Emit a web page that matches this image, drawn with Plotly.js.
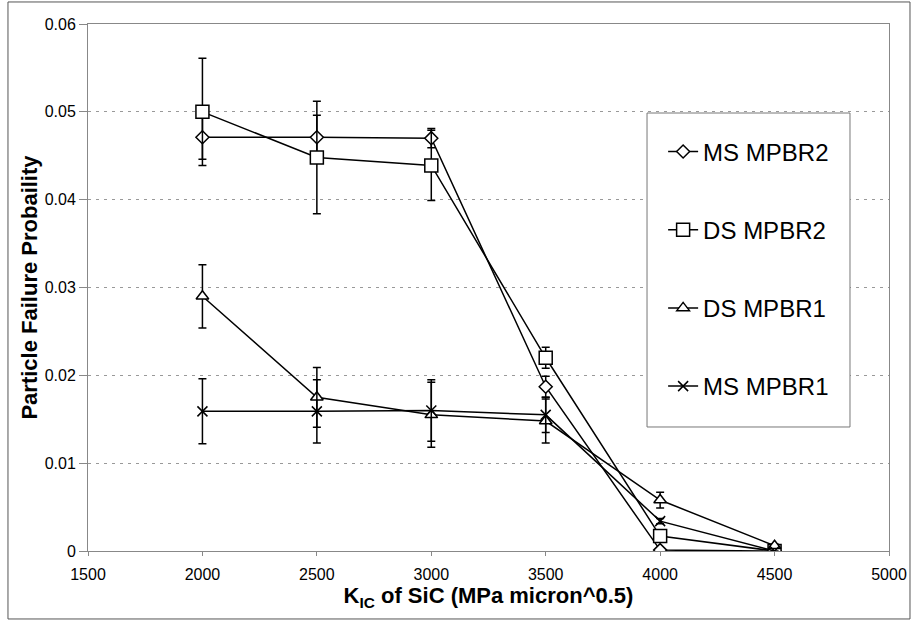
<!DOCTYPE html>
<html>
<head>
<meta charset="utf-8">
<script src="https://cdn.plot.ly/plotly-3.0.1.min.js"></script>
<style>
  html, body { margin: 0; padding: 0; background: #fff; }
  #chart { width: 912px; height: 623px; }
</style>
</head>
<body>
<div id="chart"></div>
<script>
// Fracture toughness of SiC (x) and particle failure probability (y)
const kic = [2000, 2500, 3000, 3500, 4000, 4500];

const seriesNames = ["MS MPBR2", "DS MPBR2", "DS MPBR1", "MS MPBR1"];

const msMpbr2 = [0.0471, 0.0471, 0.0470, 0.0187, 0.0001, 0.0000];
const msMpbr2Err = [0.0025, 0.0025, 0.0011, 0.0012, 0.0000, 0.0000];

const dsMpbr2 = [0.0500, 0.0448, 0.0439, 0.0220, 0.0017, 0.0000];
const dsMpbr2Err = [0.0061, 0.0064, 0.0040, 0.0012, 0.0006, 0.0000];

const dsMpbr1 = [0.0290, 0.0175, 0.0155, 0.0148, 0.0058, 0.0006];
const dsMpbr1Err = [0.0036, 0.0034, 0.0037, 0.0025, 0.0009, 0.0002];

const msMpbr1 = [0.0159, 0.0159, 0.0160, 0.0155, 0.0034, 0.0000];
const msMpbr1Err = [0.0037, 0.0036, 0.0035, 0.0020, 0.0003, 0.0000];

const yTicks = [0, 0.01, 0.02, 0.03, 0.04, 0.05, 0.06];
const yTickText = ["0", "0.01", "0.02", "0.03", "0.04", "0.05", "0.06"];
const xTicks = [1500, 2000, 2500, 3000, 3500, 4000, 4500, 5000];

const FONT = "Liberation Sans, Arial, Helvetica, sans-serif";

function mk(name, y, err, symbol, size, fill) {
  return {
    x: kic, y: y, name: name, type: "scatter", mode: "lines+markers",
    legendgroup: name,
    line: { color: "#000", width: 1.5 },
    marker: { symbol: symbol, size: size, color: fill, line: { color: "#000", width: 1.5 } },
    error_y: { type: "data", array: err, visible: true, color: "#000", thickness: 1.5, width: 4 }
  };
}

const data = [
  mk(seriesNames[0], msMpbr2, msMpbr2Err, "diamond", 10, "#fff"),
  mk(seriesNames[1], dsMpbr2, dsMpbr2Err, "square", 13, "#fff"),
  mk(seriesNames[2], dsMpbr1, dsMpbr1Err, "triangle-up", 11, "#fff"),
  mk(seriesNames[3], msMpbr1, msMpbr1Err, "x-thin", 10, "#000")
];

const layout = {
  width: 912, height: 623,
  margin: { l: 88, r: 23, t: 24, b: 72 },
  paper_bgcolor: "#fff", plot_bgcolor: "#fff",
  font: { family: FONT, color: "#000", size: 16 },
  showlegend: true,
  legend: {
    x: 0.718, y: 0.80, xanchor: "left", yanchor: "top",
    bgcolor: "rgba(0,0,0,0)", borderwidth: 0,
    font: { family: FONT, size: 24, color: "#000" },
    traceorder: "grouped", tracegroupgap: 44,
    itemwidth: 30
  },
  xaxis: {
    range: [1500, 5000], tickvals: xTicks, ticktext: xTicks.map(String),
    showgrid: false, zeroline: false,
    showline: true, linecolor: "#888", linewidth: 1, mirror: true,
    ticks: "outside", ticklen: 4, tickcolor: "#888",
    ticklabelstandoff: 5,
    tickfont: { family: FONT, size: 16 },
    title: { text: "K<sub>IC</sub> of SiC (MPa micron^0.5)", font: { family: FONT, size: 22, weight: "bold" }, standoff: 3 }
  },
  yaxis: {
    range: [0, 0.06], tickvals: yTicks, ticktext: yTickText,
    showgrid: true, gridcolor: "#999", griddash: "3px,5px", gridwidth: 1,
    zeroline: false,
    showline: true, linecolor: "#888", linewidth: 1, mirror: true,
    ticks: "outside", ticklen: 8, tickcolor: "#888",
    tickfont: { family: FONT, size: 16 },
    title: { text: "Particle Failure Probaility", font: { family: FONT, size: 22, weight: "bold" }, standoff: 0 }
  },
  shapes: [
    { type: "rect", xref: "paper", yref: "paper", layer: "above",
      x0: 0.6979, x1: 0.9513, y0: 0.2353, y1: 0.8311,
      line: { color: "#777", width: 1 }, fillcolor: "#fff" },
    { type: "rect", xref: "paper", yref: "paper", layer: "above",
      x0: -0.0999, x1: 1.0262, y0: -0.1290, y1: 1.0418,
      line: { color: "#555", width: 1 }, fillcolor: "rgba(0,0,0,0)" }
  ]
};

Plotly.newPlot("chart", data, layout, { staticPlot: true, displayModeBar: false });
</script>
</body>
</html>
